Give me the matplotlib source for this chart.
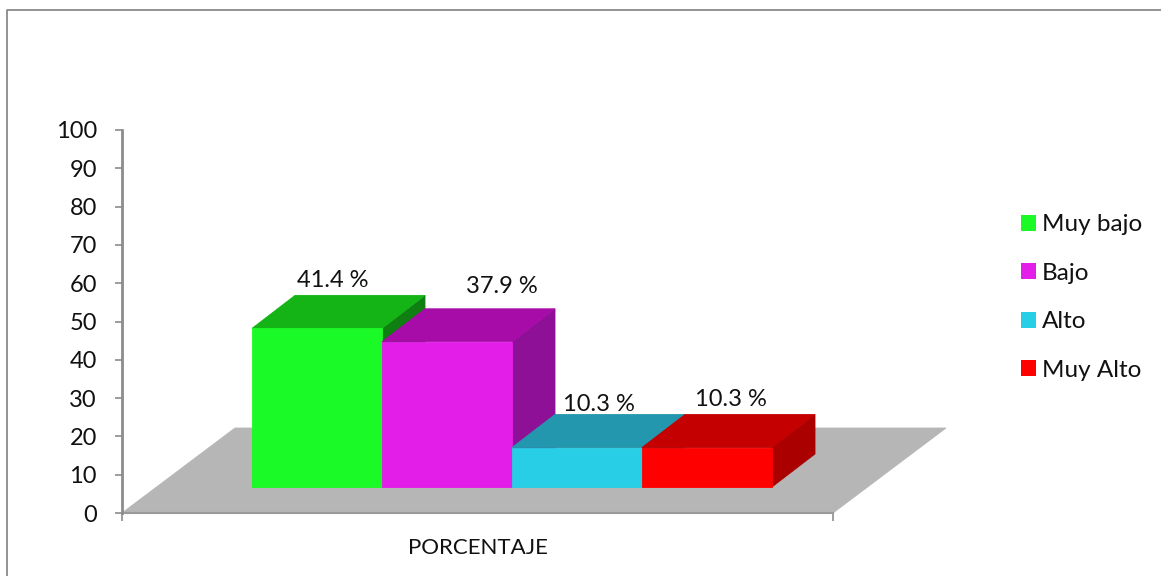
import numpy as np
import matplotlib
matplotlib.use('Agg')
import matplotlib.pyplot as plt
from matplotlib.lines import Line2D
from matplotlib.patches import Patch, Polygon

plt.rcParams['font.family'] = ['Lato', 'DejaVu Sans']

CATEGORY = ['PORCENTAJE']
SERIES = ['Muy bajo', 'Bajo', 'Alto', 'Muy Alto']
VALUES = [41.4, 37.9, 10.3, 10.3]
Y_TICKS = list(range(0, 101, 10))

FRONT = ['#1AFA26', '#E31EE8', '#27CEE6', '#FE0000']
TOP = ['#15B416', '#A80CA8', '#2397AE', '#C40000']
SIDE = ['#0F7F12', '#8E1096', '#1B7C90', '#AA0000']
GREY = '#8C8C8C'
FLOOR = '#B6B6B6'

# Oblique projection, in data units
(W, H) = (1161, 576)
(DEPTH_X, DEPTH_Y) = (43/711, 33/3.83)
(FLOOR_X, FLOOR_Y) = (113/711, 85/3.83)
BAR_WIDTH = 130/711
BAR_START = 130/711
BAR_BASE = 6.8
# Label offsets from each bar's top-back-left corner (points)
LABEL_OFFSETS = [(27, 3), (55, 8.5), (31.5, 0), (33, 3)]

###############################################################################
# Plot
###############################################################################
fig = plt.figure(figsize=(W/100, H/100), dpi=100)
ax = fig.add_axes([122/W, (H-513)/H, 711/W, 383/H])
ax.set_xlim(0, 1)
ax.set_ylim(0, 100)
ax.patch.set_alpha(0)


def poly(pts, color, z):
    ax.add_patch(Polygon(
        pts, closed=True, facecolor=color, edgecolor=color, lw=.6,
        zorder=z, clip_on=False
    ))


# Floor -----------------------------------------------------------------------
poly(
    [(0, 0), (FLOOR_X, FLOOR_Y), (1+FLOOR_X, FLOOR_Y), (1, 0)], FLOOR, 1
)
ax.plot([0, 1], [0, 0], color='#9A9A9A', lw=1.5, zorder=2, clip_on=False)
# Bars ------------------------------------------------------------------------
lefts = BAR_START + BAR_WIDTH*np.arange(len(VALUES))
for (ix, val) in enumerate(VALUES):
    (x0, x1) = (lefts[ix], lefts[ix]+BAR_WIDTH)
    (y0, y1) = (BAR_BASE, BAR_BASE+val)
    z = 3 + ix
    poly([
        (x1, y0), (x1+DEPTH_X, y0+DEPTH_Y),
        (x1+DEPTH_X, y1+DEPTH_Y), (x1, y1)
    ], SIDE[ix], z)
    poly([
        (x0, y1), (x0+DEPTH_X, y1+DEPTH_Y),
        (x1+DEPTH_X, y1+DEPTH_Y), (x1, y1)
    ], TOP[ix], z)
    poly([(x0, y0), (x0, y1), (x1, y1), (x1, y0)], FRONT[ix], z)
    ax.annotate(
        '{} %'.format(val), xy=(x0+DEPTH_X, y1+DEPTH_Y),
        xytext=LABEL_OFFSETS[ix], textcoords='offset points',
        ha='center', va='bottom', fontsize=17, color='#111111', zorder=10,
        annotation_clip=False
    )
# Axes ------------------------------------------------------------------------
for side in ('top', 'right'):
    ax.spines[side].set_visible(False)
ax.spines['left'].set_color(GREY)
ax.spines['left'].set_linewidth(2)
ax.spines['bottom'].set_visible(False)
ax.set_yticks(Y_TICKS)
ax.tick_params(
    axis='y', direction='out', length=5, width=1.2, color=GREY,
    labelsize=17, labelcolor='#111111', pad=13
)
ax.set_xticks([.5], labels=CATEGORY)
ax.set_xticks([0, 1], minor=True)
ax.tick_params(
    axis='x', which='major', length=0, labelsize=16,
    labelcolor='#111111', pad=18
)
ax.tick_params(
    axis='x', which='minor', direction='out', length=6, width=1.2, color=GREY
)
# Legend ----------------------------------------------------------------------
handles = [Patch(facecolor=c, edgecolor=c, lw=0) for c in FRONT]
fig.legend(
    handles, SERIES, loc='center left',
    bbox_to_anchor=(999/W, (H-297.5)/H), frameon=False, fontsize=17.5,
    handlelength=.62, handleheight=.62, handletextpad=.25, labelspacing=1.13,
    labelcolor='#111111'
)
# Outer frame -----------------------------------------------------------------
fig.add_artist(Line2D(
    [7/W, 7/W, 1], [0, (H-10)/H, (H-10)/H],
    transform=fig.transFigure, color='#8A8A8A', lw=1.3
))
fig.savefig('out.png', dpi=100)
